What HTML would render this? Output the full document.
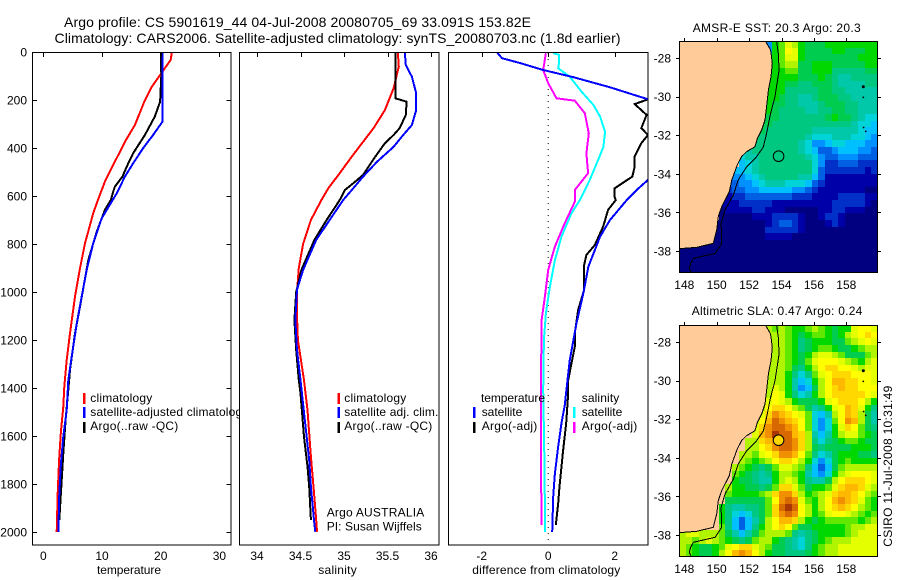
<!DOCTYPE html>
<html lang="en">
<head>
<meta charset="utf-8">
<title>Argo profile CS 5901619_44</title>
<style>
html,body{margin:0;padding:0;background:#fff;}
svg{display:block;font-family:"Liberation Sans",Arial,sans-serif;font-size:12px;fill:#000;}
text{fill:#000;}
.title{font-size:14px;}
</style>
</head>
<body>
<svg id="chart" xmlns="http://www.w3.org/2000/svg" width="900" height="580" viewBox="0 0 900 580">
<defs>
<clipPath id="clip-p1"><rect x="32" y="52" width="199" height="493"/></clipPath>
<clipPath id="clip-p2"><rect x="239" y="52" width="200" height="493"/></clipPath>
<clipPath id="clip-p3"><rect x="448" y="52" width="200" height="493"/></clipPath>
<clipPath id="clip-m1"><rect x="679" y="41" width="199" height="232"/></clipPath>
<clipPath id="clip-m2"><rect x="679" y="325" width="199" height="232"/></clipPath>
</defs>
<rect x="0" y="0" width="900" height="580" fill="#fff"/>

<text class="title" x="64" y="27" textLength="467">Argo profile: CS 5901619_44 04-Jul-2008 20080705_69 33.091S 153.82E</text>
<text class="title" x="54.5" y="43" textLength="566">Climatology: CARS2006. Satellite-adjusted climatology: synTS_20080703.nc (1.8d earlier)</text>

<!-- Panel 1 -->
<g>
<rect x="32.5" y="52.5" width="198.5" height="492.5" fill="#fff"/>
<g id="p1-series" clip-path="url(#clip-p1)"></g>
<rect x="32.5" y="52.5" width="198.5" height="492.5" fill="none" stroke="#000" stroke-width="1" shape-rendering="crispEdges"/>
<g id="p1-axes"></g>
<text x="97" y="574" textLength="64">temperature</text>
<g>
<rect x="83" y="393" width="2.5" height="11" fill="#f00"/>
<rect x="83" y="407" width="2.5" height="11" fill="#00f"/>
<rect x="83" y="422" width="2.5" height="11" fill="#000"/>
<text x="90.3" y="402" textLength="62">climatology</text>
<text x="90.3" y="416" textLength="158">satellite-adjusted climatology</text>
<text x="90.3" y="430" textLength="88">Argo(..raw -QC)</text>
</g>
</g>

<!-- Panel 2 -->
<g>
<rect x="239.5" y="52.5" width="199.5" height="492.5" fill="#fff"/>
<g id="p2-series" clip-path="url(#clip-p2)"></g>
<rect x="239.5" y="52.5" width="199.5" height="492.5" fill="none" stroke="#000" stroke-width="1" shape-rendering="crispEdges"/>
<g id="p2-axes"></g>
<text x="318.3" y="574" textLength="38.4">salinity</text>
<g>
<rect x="337.5" y="393" width="2.5" height="11" fill="#f00"/>
<rect x="337.5" y="407" width="2.5" height="11" fill="#00f"/>
<rect x="337.5" y="422" width="2.5" height="11" fill="#000"/>
<text x="344.3" y="402" textLength="62">climatology</text>
<text x="344.3" y="416" textLength="94">satellite adj. clim.</text>
<text x="344.3" y="430" textLength="88">Argo(..raw -QC)</text>
</g>
<text x="326.7" y="516.5" textLength="97.6">Argo AUSTRALIA</text>
<text x="326.7" y="530.5" textLength="95">PI: Susan Wijffels</text>
</g>

<!-- Panel 3 -->
<g>
<rect x="448.5" y="52.5" width="199.5" height="492.5" fill="#fff"/>
<g id="p3-series" clip-path="url(#clip-p3)"></g>
<rect x="448.5" y="52.5" width="199.5" height="492.5" fill="none" stroke="#000" stroke-width="1" shape-rendering="crispEdges"/>
<g id="p3-axes"></g>
<text x="472.3" y="574" textLength="148">difference from climatology</text>
<g>
<text x="481" y="402" textLength="64">temperature</text>
<text x="581.7" y="402" textLength="37.6">salinity</text>
<rect x="473" y="407" width="2.5" height="11" fill="#00f"/>
<rect x="473" y="422" width="2.5" height="11" fill="#000"/>
<rect x="573" y="407" width="2.5" height="11" fill="#0ff"/>
<rect x="573" y="422" width="2.5" height="11" fill="#f0f"/>
<text x="481.7" y="416" textLength="40.6">satellite</text>
<text x="481.7" y="430" textLength="55.6">Argo(-adj)</text>
<text x="581.7" y="416" textLength="40.6">satellite</text>
<text x="581.7" y="430" textLength="55.6">Argo(-adj)</text>
</g>
</g>

<!-- Maps -->
<text x="692.7" y="32" textLength="168">AMSR-E SST: 20.3 Argo: 20.3</text>
<g id="map1"></g>
<text x="691.7" y="315" textLength="170.6">Altimetric SLA: 0.47 Argo: 0.24</text>
<g id="map2"></g>
<text transform="translate(892,546.7) rotate(-90)" x="0" y="0" textLength="161">CSIRO 11-Jul-2008 10:31:49</text>
</svg>

<script>
// ---------- Profile data ----------
const depthTicks = [0,200,400,600,800,1000,1200,1400,1600,1800,2000];
const tempTicks = [0,10,20,30];
const salTicks = [34,34.5,35,35.5,36];
const salTickLabels = ['34','34.5','35','35.5','36'];
const diffTicks = [-2,0,2];

const tempClimDepth = [0,33,68,96,144,207,304,374,457,540,617,672,797,901,1019,1172,1283,1394,1478,1582,1700,1839,1999];
const tempClimValues = [21.9,21.7,20.7,19.9,18.5,17.2,15.6,13.9,12.2,10.5,9.3,8.5,7.1,6.25,5.4,4.55,3.98,3.58,3.4,3.0,2.7,2.45,2.28];
const tempSatDepth = [0,200,290,346,401,464,519,589,617,693,797,908,1019,1130,1269,1367,1492,1603,1714,1839,1999];
const tempSatValues = [20.3,20.3,20.3,18.7,17.0,15.3,13.9,12.5,11.8,9.95,8.5,7.4,6.54,5.7,4.84,4.26,3.98,3.4,3.0,2.73,2.56];
const tempArgoDepth = [0,100,207,269,346,422,478,519,561,582,617,658,749,867,1061,1172,1325,1408,1533,1672,1839,1950];
const tempArgoValues = [20.05,20.1,19.9,19.0,17.3,15.3,14.2,13.5,12.2,11.9,11.5,10.5,9.1,7.67,6.25,5.4,4.55,4.26,3.8,3.4,3.0,2.73];

const salClimDepth = [5,61,151,242,317,374,436,505,568,617,700,800,900,1000,1100,1200,1367,1492,1686,1811,1950,1999];
const salClimValues = [35.62,35.63,35.57,35.47,35.34,35.22,35.09,34.95,34.82,34.74,34.62,34.53,34.48,34.46,34.46,34.47,34.54,34.58,34.62,34.65,34.68,34.69];
const salSatDepth = [5,54,103,172,242,304,346,395,457,519,575,617,783,908,990,1117,1242,1367,1533,1700,1811,1950,1999];
const salSatValues = [35.70,35.71,35.78,35.83,35.83,35.78,35.68,35.57,35.38,35.22,35.09,34.99,34.68,34.53,34.46,34.44,34.46,34.50,34.55,34.60,34.62,34.655,34.67];
const salArgoDepth = [5,193,207,262,317,346,380,436,512,540,575,617,700,783,908,1000,1117,1242,1367,1422,1603,1728,1811,1950];
const salArgoValues = [35.59,35.59,35.72,35.71,35.64,35.57,35.47,35.36,35.22,35.13,35.01,34.95,34.80,34.66,34.51,34.45,34.43,34.45,34.48,34.50,34.54,34.58,34.60,34.62];

const diffTempSatDepth = [3,26,46,75,105,147,197,250,304,400,533,575,617,700,769,894,1004,1130,1283,1367,1471,1546,1644,1756,1853,1999];
const diffTempSatValues = [-1.53,-1.39,-0.85,-0.15,0.76,1.86,3.0,3.9,4.7,3.6,3.0,2.66,2.36,1.86,1.56,1.21,1.06,0.85,0.65,0.58,0.5,0.4,0.3,0.2,0.15,0.12];
const diffTempArgoDepth = [3,26,46,75,105,147,197,217,262,317,346,380,436,478,519,568,600,617,658,728,804,846,894,992,1075,1172,1228,1297,1367,1422,1546,1672,1811,1880,1971];
const diffTempArgoValues = [-1.53,-1.39,-0.85,-0.15,0.76,1.86,3.0,2.6,2.96,2.8,3.0,2.8,2.6,2.6,2.53,2.0,1.99,2.03,1.8,1.65,1.4,1.15,1.07,1.08,0.9,0.8,0.8,0.7,0.6,0.6,0.54,0.44,0.34,0.3,0.23];
const diffSalSatDepth = [5,12,40,68,103,165,221,269,332,395,450,533,575,617,672,769,867,978,1088,1200,1408,1644,1999];
const diffSalSatValues = [0.15,0.33,0.33,0.3,0.65,1.0,1.36,1.56,1.71,1.66,1.5,1.25,1.1,0.95,0.7,0.4,0.2,0.05,-0.07,-0.13,-0.15,-0.12,-0.09];
const diffSalArgoDepth = [5,75,130,193,203,255,339,422,505,575,624,713,811,908,1019,1117,1408,1700,1971];
const diffSalArgoValues = [-0.07,-0.15,0,0.25,0.8,1.1,1.22,1.15,1.2,0.8,0.8,0.5,0.2,0,-0.1,-0.2,-0.22,-0.22,-0.2];

// ---------- Map data (level codes, rows north to south, right-aligned to the east edge) ----------
const sstRows = [
"4abdca999aaaaaaaa",
"4abeda9999aa999aa",
"aabdda99999999aaa",
"aabcc99aaa99999aa",
"aaabb99aaa8888899",
"aaaaa999a98778888",
"aaa99889998777788",
"aaa88888998877777",
"aa988778999887777",
"a9988777899988777",
"a9888877889988777",
"a9988888889a998766",
"998888888888887665",
"988888887777777655",
"9888888876667776654",
"8888888764456655544",
"78888888765334555443",
"677888888876433444333",
"567888888886422333222",
"5567888888886322222212",
"4456788888775311111111",
"33445677766653211111111",
"23344555554432111111100",
"12233333332221111222211",
"111222221111111112222210",
"011112211100000112211100",
"000001112222100122100000",
"0000000012332100012100000",
"0000000022222100000000000",
"000000000000011110000000000000",
"000000000000000000000000000000",
"000000000000000000000000000000",
"000000000000000000000000000000",
"000000000000000000000000000000",
"000000000000000000000000000000"
];
const slaRows = [
"cbcbaabcba9aadeed",
"cccba9abba9acdefe",
"cccba89aaa99bcded",
"cccba89abba99abcc",
"cccba9acddcb999bc",
"cccba9bdeeedcbacd",
"cccb98aceffeedcdd",
"ccca868bdefffeeed",
"ccca756aceggffeed",
"cdca7459cefgffeee",
"ceda867acefffffed",
"cdedca999adefffeca",
"ceffecb978adegfda8",
"dfhgfedb657cegfc97",
"cegihgfeb646behgc97",
"dfhiihgeb646adfeb98",
"dghjiigfc757acddba9",
"ccfghiihfc8689abba99",
"ccefhiihfc989999aaa9",
"ccbdefhhgeb8679aaa998",
"cbabceffeca6469abaaaa",
"cba989bddcb85359bccccc",
"ba9878accba7546acdeeed",
"a99877acdca8779cefffed",
"caa9989bffdb9aabdfggfdc",
"baaaabcfhhfcabcdfggfecb",
"999999behihdbaceghgfdba",
"a877889bfijiecacefgfecba",
"a865689bfhihecabdeedcbab",
"a853579ceggfca9abbbbbabc",
"b85358acefeb99aaaaabccdd",
"cddcccb97579bcccb8789aaaabcddd",
"ccbcdcba989bcca987689abcccdddd",
"cba99abdeffdcb998768abccdddddd",
"cba99acegh" + "geca9988" + "89abcc" + "dddddd"
];
const levelCodes = "0123456789abcdefghij";
const levelColors = ["#000080","#0000a8","#0030c8","#0060e4","#0090ff","#00c0ff","#00d4d8","#00c8a8","#00c880","#00cc50","#00d800","#60e800","#b0f400","#e4ff00","#ffff00","#ffd800","#ffb800","#f09000","#d86800","#a83800"];

const coastLon = [153.02,153.33,153.43,153.35,153.19,153.08,152.98,152.78,152.51,152.36,151.85,151.54,151.27,150.93,150.78,150.31,150.1,150.0,149.79,148.77,147.67];
const coastLat = [-27.13,-27.59,-28.27,-28.97,-29.66,-30.52,-31.21,-31.73,-32.16,-32.6,-32.85,-33.11,-33.54,-34.32,-34.93,-35.7,-36.22,-36.91,-37.6,-37.81,-37.88];
const contourLon = [153.7,153.8,153.85,153.6,153.33,153.08,152.88,152.47,151.85,151.33,151.03,150.51,150.27,150.31,149.9,148.56,148.39,148.31,148.45];
const contourLat = [-27.13,-27.76,-28.62,-30.0,-30.87,-31.9,-32.6,-33.11,-33.63,-34.32,-35.1,-35.88,-36.57,-37.6,-38.12,-38.38,-38.64,-38.9,-39.15];
const islandLon = [159.05,159.05,159.07,159.2];
const islandLat = [-29.49,-30.04,-31.6,-31.8];
const lonTicks = [148,150,152,154,156,158];
const latTicks = [-28,-30,-32,-34,-36,-38];
const argoLon = 153.82;
const argoLat = -33.09;

// ---------- Helpers ----------
const NS = 'http://www.w3.org/2000/svg';
function make(tag, attrs, parent, txt) {
  const el = document.createElementNS(NS, tag);
  for (const k in attrs) el.setAttribute(k, attrs[k]);
  if (txt !== undefined) el.textContent = txt;
  parent.appendChild(el);
  return el;
}
const yDepth = d => 52 + 0.24 * d;
const xTemp = v => 43.3 + 5.87 * v;
const xSal = v => 344 + 87 * (v - 35);
const xDiff = v => 548.2 + 33.25 * v;

function drawLine(parent, depths, values, xf, color, name) {
  const pts = depths.map((d, i) => xf(values[i]).toFixed(1) + ',' + yDepth(d).toFixed(1)).join(' ');
  const el = make('polyline', {points: pts, fill: 'none', stroke: color, 'stroke-width': 2, 'shape-rendering': 'crispEdges'}, parent);
  
  
}

function drawXAxis(parent, ticks, labels, xf) {
  ticks.forEach((t, i) => {
    const x = Math.round(xf(t)) + 0.5;
    const tk = make('line', {x1: x, x2: x, y1: 52.5, y2: 57, stroke: '#000', 'shape-rendering': 'crispEdges'}, parent);
    
    
    const lb = make('text', {x: xf(t), y: 560, 'text-anchor': 'middle'}, parent, labels[i]);
    
    
  });
}

// ---------- Panel 1 ----------
const p1s = document.getElementById('p1-series');
drawLine(p1s, tempClimDepth, tempClimValues, xTemp, '#f00', 'temperature-climatology-line');
drawLine(p1s, tempArgoDepth, tempArgoValues, xTemp, '#000', 'temperature-argo-line');
drawLine(p1s, tempSatDepth, tempSatValues, xTemp, '#00f', 'temperature-satellite-line');
const p1a = document.getElementById('p1-axes');
drawXAxis(p1a, tempTicks, tempTicks.map(String), xTemp);
depthTicks.forEach(d => {
  const y = Math.round(yDepth(d)) + 0.5;
  const l = make('line', {x1: 32.5, x2: 37, y1: y, y2: y, stroke: '#000', 'shape-rendering': 'crispEdges'}, p1a);
  
  
  const r = make('line', {x1: 226.5, x2: 231, y1: y, y2: y, stroke: '#000', 'shape-rendering': 'crispEdges'}, p1a);
  
  
  const t = make('text', {x: 27, y: yDepth(d) + 4.5, 'text-anchor': 'end'}, p1a, String(d));
  
  
});

// ---------- Panel 2 ----------
const p2s = document.getElementById('p2-series');
drawLine(p2s, salClimDepth, salClimValues, xSal, '#f00', 'salinity-climatology-line');
drawLine(p2s, salArgoDepth, salArgoValues, xSal, '#000', 'salinity-argo-line');
drawLine(p2s, salSatDepth, salSatValues, xSal, '#00f', 'salinity-satellite-line');
drawXAxis(document.getElementById('p2-axes'), salTicks, salTickLabels, xSal);

// ---------- Panel 3 ----------
const p3s = document.getElementById('p3-series');
const zeroLine = make('line', {x1: xDiff(0), x2: xDiff(0), y1: 53, y2: 545, stroke: '#000', 'stroke-width': 1, 'stroke-dasharray': '1 5'}, p3s);


drawLine(p3s, diffSalSatDepth, diffSalSatValues, xDiff, '#0ff', 'salinity-satellite-difference-line');
drawLine(p3s, diffSalArgoDepth, diffSalArgoValues, xDiff, '#f0f', 'salinity-argo-difference-line');
drawLine(p3s, diffTempArgoDepth, diffTempArgoValues, xDiff, '#000', 'temperature-argo-difference-line');
drawLine(p3s, diffTempSatDepth, diffTempSatValues, xDiff, '#00f', 'temperature-satellite-difference-line');
drawXAxis(document.getElementById('p3-axes'), diffTicks, diffTicks.map(String), xDiff);

// ---------- Maps ----------
function drawMap(root, rows, top, latAnchor, labelY, clipId, markerFill) {
  const xLon = lon => 684.3 + (lon - 148) * 16.2;
  const yLat = lat => latAnchor + (-28 - lat) * 19.3;
  const left = 679, width = 199, height = 232, nCols = 30, nRows = 35;

  const bg = make('rect', {x: left, y: top, width: width, height: height, fill: '#ffcc99'}, root);
  
  

  const field = make('g', {'clip-path': 'url(#' + clipId + ')', 'shape-rendering': 'crispEdges'}, root);
  
  
  rows.forEach((row, r) => {
    const offset = nCols - row.length;
    const y0 = top + Math.round(r * height / nRows);
    const y1 = top + Math.round((r + 1) * height / nRows);
    for (let c = 0; c < row.length; c++) {
      const level = levelCodes.indexOf(row[c]);
      if (level < 0) continue;
      const x0 = left + Math.round((c + offset) * width / nCols);
      const x1 = left + Math.round((c + offset + 1) * width / nCols);
      const cell = make('rect', {x: x0, y: y0, width: x1 - x0, height: y1 - y0, fill: levelColors[level]}, field);
      
      
    }
  });

  const overlay = make('g', {'clip-path': 'url(#' + clipId + ')'}, root);
  
  

  const coastPts = coastLon.map((lon, i) => xLon(lon).toFixed(1) + ',' + yLat(coastLat[i]).toFixed(1));
  const land = make('polygon', {points: coastPts.join(' ') + ' ' + left + ',' + top, fill: '#ffcc99'}, overlay);
  
  
  const coast = make('polyline', {points: coastPts.join(' '), fill: 'none', stroke: '#000', 'stroke-width': 1, 'shape-rendering': 'crispEdges'}, overlay);
  
  
  const contourPts = contourLon.map((lon, i) => xLon(lon).toFixed(1) + ',' + yLat(contourLat[i]).toFixed(1)).join(' ');
  const contour = make('polyline', {points: contourPts, fill: 'none', stroke: '#000', 'stroke-width': 1, 'shape-rendering': 'crispEdges'}, overlay);
  
  
  islandLon.forEach((lon, i) => {
    const isl = make('circle', {cx: xLon(lon), cy: yLat(islandLat[i]), r: i === 0 ? 1.5 : 0.9, fill: '#000'}, overlay);
    
    
  });
  const marker = make('circle', {cx: xLon(argoLon), cy: yLat(argoLat), r: 5.3, fill: markerFill, stroke: '#000', 'stroke-width': 1}, overlay);
  
  

  const frame = make('rect', {x: left + 0.5, y: top + 0.5, width: width - 1, height: height - 1, fill: 'none', stroke: '#000', 'shape-rendering': 'crispEdges'}, root);
  
  

  lonTicks.forEach(lon => {
    const x = Math.round(xLon(lon)) + 0.5;
    const tk = make('line', {x1: x, x2: x, y1: top - 3, y2: top, stroke: '#000', 'shape-rendering': 'crispEdges'}, root);
    
    
    const lb = make('text', {x: xLon(lon), y: labelY, 'text-anchor': 'middle'}, root, String(lon));
    
    
  });
  latTicks.forEach(lat => {
    const y = Math.round(yLat(lat)) + 0.5;
    const l = make('line', {x1: left - 3, x2: left, y1: y, y2: y, stroke: '#000', 'shape-rendering': 'crispEdges'}, root);
    
    
    const r = make('line', {x1: left + width, x2: left + width + 3, y1: y, y2: y, stroke: '#000', 'shape-rendering': 'crispEdges'}, root);
    
    
    const lb = make('text', {x: 671, y: yLat(lat) + 4.5, 'text-anchor': 'end'}, root, String(lat));
    
    
  });
}
drawMap(document.getElementById('map1'), sstRows, 41, 58, 289, 'clip-m1', 'none');
drawMap(document.getElementById('map2'), slaRows, 325, 342, 573, 'clip-m2', '#ffd800');
</script>
</body>
</html>
